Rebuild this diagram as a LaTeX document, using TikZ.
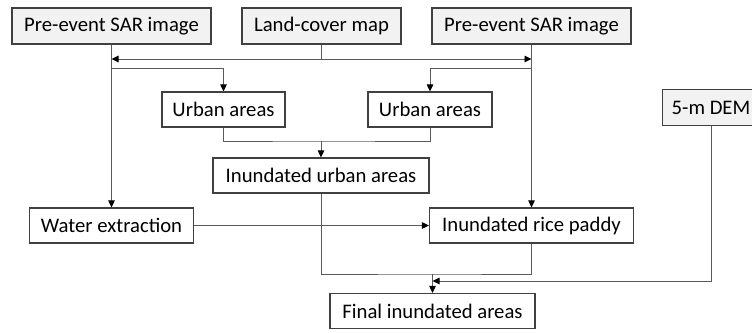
\documentclass[tikz,border=0pt]{standalone}
\usepackage{fontspec}
\setmainfont{Carlito}
\usepackage{tikz}
\usetikzlibrary{arrows.meta}
\definecolor{boxline}{RGB}{64,64,64}
\definecolor{boxfill}{RGB}{242,242,242}
\definecolor{flowline}{RGB}{90,90,90}

\tikzset{
  databox/.style={draw=boxline, line width=1.1pt, fill=boxfill, inner sep=0pt, minimum height=36pt, font=\fontsize{20.7}{24}\selectfont},
  procbox/.style={draw=boxline, line width=1.1pt, fill=white, inner sep=0pt, minimum height=35pt, font=\fontsize{20.7}{24}\selectfont},
  flow/.style={draw=flowline, line width=0.9pt},
  flowarr/.style={flow, -{Triangle[length=7pt,width=6.5pt,color=black]}}
}

\begin{document}
\begin{tikzpicture}[x=1pt,y=1pt,yscale=-1,xscale=1]
\useasboundingbox (0,0) rectangle (752,332);

% Input boxes
\node [databox, minimum width=199pt] (sarL) at (111.5,26) {Pre-event SAR image};
\node [databox, minimum width=159pt] (lcm) at (321.5,26) {Land-cover map};
\node [databox, minimum width=199pt] (sarR) at (531.5,26) {Pre-event SAR image};
\node [databox, minimum width=97pt] (dem) at (711,107.5) {5-m DEM};

% Process boxes
\node [procbox, minimum width=123pt] (urbL) at (223.5,109.5) {Urban areas};
\node [procbox, minimum width=124pt] (urbR) at (430,109.5) {Urban areas};
\node [procbox, minimum width=216pt] (inuU) at (321,175.5) {Inundated urban areas};
\node [procbox, minimum width=164pt] (water) at (111.5,225.5) {Water extraction};
\node [procbox, minimum width=204pt] (rice) at (531.5,225.5) {Inundated rice paddy};
\node [procbox, minimum width=205pt] (final) at (432.5,311) {Final inundated areas};

% Junctions
\coordinate (lcmJ) at (321.5,59);
\coordinate (tapL) at (111.5,68);
\coordinate (tapR) at (531.5,68);
\coordinate (mergeU) at (321,141);
\coordinate (mergeF) at (432.5,274);
\coordinate (demJ) at (432.5,281);

% Land-cover map to both SAR lines
\draw [flow] (lcm.south) -- (lcmJ);
\draw [flowarr] (lcmJ) -- (lcmJ -| sarL.south);
\draw [flowarr] (lcmJ) -- (lcmJ -| sarR.south);

% SAR lines
\draw [flowarr] (sarL.south) -- (water.north);
\draw [flowarr] (sarR.south) -- (rice.north);
\draw [flowarr] (tapL) -| (urbL.north);
\draw [flowarr] (tapR) -| (urbR.north);

% Urban areas merge
\draw [flow] (urbL.south) |- (mergeU) -| (urbR.south);
\draw [flowarr] (mergeU) -- (inuU.north);

% Water extraction to rice paddy
\draw [flowarr] (water.east) -- (rice.west);

% Final merge
\draw [flow] (inuU.south) |- (mergeF) -| (rice.south);
\draw [flowarr] (mergeF) -- (final.north);
\draw [flowarr] (dem.south) |- (demJ);

\end{tikzpicture}
\end{document}
